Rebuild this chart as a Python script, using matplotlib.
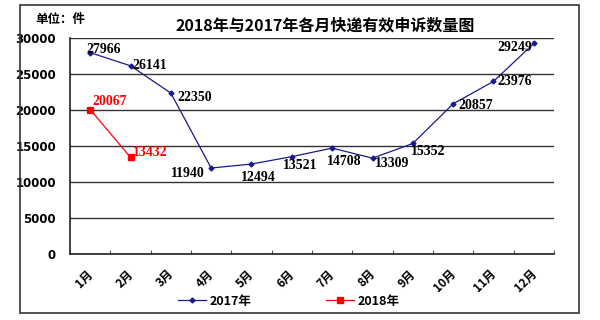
import matplotlib
matplotlib.use("Agg")
import matplotlib.pyplot as plt
from matplotlib.patches import Rectangle
from matplotlib.lines import Line2D

plt.rcParams['font.family'] = ['Noto Sans CJK SC', 'DejaVu Sans']

months = ["1月", "2月", "3月", "4月", "5月", "6月", "7月", "8月", "9月", "10月", "11月", "12月"]
values_2017 = [27966, 26141, 22350, 11940, 12494, 13521, 14708, 13309, 15352, 20857, 23976, 29249]
values_2018 = [20067, 13432]
y_ticks = [0, 5000, 10000, 15000, 20000, 25000, 30000]

# label offsets (points) and horizontal alignment for each data label
offsets_2017 = [(-3, 2.5, 'left'), (1.5, 0, 'left'), (5, -3, 'left'),
                (-4.3, -3.6, 'right'), (5, -10, 'center'), (6, -6.5, 'center'),
                (8.6, -10, 'center'), (2, -3.6, 'left'), (-1.4, -5.8, 'left'),
                (3.6, -1.4, 'left'), (2.9, 0, 'left'), (-1.4, -2.9, 'right')]
offsets_2018 = [(1.5, 5.8, 'left'), (1.5, 3.6, 'left')]

navy = "#1a1a8c"
red = "#ff0000"

fig = plt.figure(figsize=(6, 3.2), dpi=100)
fig.patch.set_facecolor("white")

# outer chart frame
fig.patches.append(Rectangle((20 / 600, 1 - 313 / 320), 559 / 600, 308 / 320,
                             transform=fig.transFigure, fill=False,
                             edgecolor="#333333", linewidth=1.2))

ax = fig.add_axes([70 / 600, 1 - 254 / 320, 484 / 600, 216 / 320])
x = list(range(len(months)))

ax.set_xlim(-0.5, len(months) - 0.5)
ax.set_ylim(0, 30000)

ax.set_yticks(y_ticks)
ax.set_yticklabels([str(v) for v in y_ticks], fontsize=8.5, fontweight='bold',
                   family=['DejaVu Sans'])
ax.tick_params(axis='y', length=0, pad=10)
ax.grid(axis='y', color="#333333", linewidth=1.0)
ax.set_axisbelow(True)

# category boundary ticks
ax.set_xticks([i - 0.5 for i in range(len(months) + 1)])
ax.set_xticklabels([])
ax.tick_params(axis='x', which='major', direction='in', length=3, color="#555555")

# rotated month labels, ending just below each category centre
for xi, m in zip(x, months):
    ax.annotate(m, (xi, 0), xytext=(0.5, -13), textcoords='offset points',
                ha='right', va='center', rotation=45, rotation_mode='anchor',
                fontsize=8.5, fontweight='bold', annotation_clip=False)

for side in ('top', 'right'):
    ax.spines[side].set_visible(False)
ax.spines['left'].set_color("#222222")
ax.spines['bottom'].set_color("#222222")
ax.spines['left'].set_linewidth(1.2)
ax.spines['bottom'].set_linewidth(1.2)

ax.plot(x, values_2017, color=navy, linewidth=0.9, marker='D', markersize=2.5,
        label="2017年")
ax.plot(x[:len(values_2018)], values_2018, color=red, linewidth=0.9, marker='s',
        markersize=4, label="2018年")

for xi, v, (dx, dy, ha) in zip(x, values_2017, offsets_2017):
    ax.annotate(str(v), (xi, v), xytext=(dx, dy), textcoords='offset points',
                ha=ha, va='center', fontsize=10, fontweight='bold',
                family=['Liberation Serif'], color='black')
for xi, v, (dx, dy, ha) in zip(x, values_2018, offsets_2018):
    ax.annotate(str(v), (xi, v), xytext=(dx, dy), textcoords='offset points',
                ha=ha, va='center', fontsize=10, fontweight='bold',
                family=['Liberation Serif'], color=red)

fig.text(325 / 600, 1 - 25 / 320, "2018年与2017年各月快递有效申诉数量图",
         ha='center', va='center', fontsize=11.5, fontweight='bold')
fig.text(35 / 600, 1 - 19 / 320, "单位：件", ha='left', va='center',
         fontsize=9, fontweight='bold')

handles = [Line2D([], [], color=navy, linewidth=0.9, marker='D', markersize=2.5),
           Line2D([], [], color=red, linewidth=0.9, marker='s', markersize=4)]
fig.legend(handles, ["2017年", "2018年"], loc='center', ncol=2,
           bbox_to_anchor=(289 / 600, 1 - 301 / 320), frameon=False,
           prop={'size': 9, 'weight': 'bold'}, handlelength=2.2,
           handletextpad=0.3, columnspacing=6.0)

fig.savefig("out.png", dpi=100, facecolor="white")
